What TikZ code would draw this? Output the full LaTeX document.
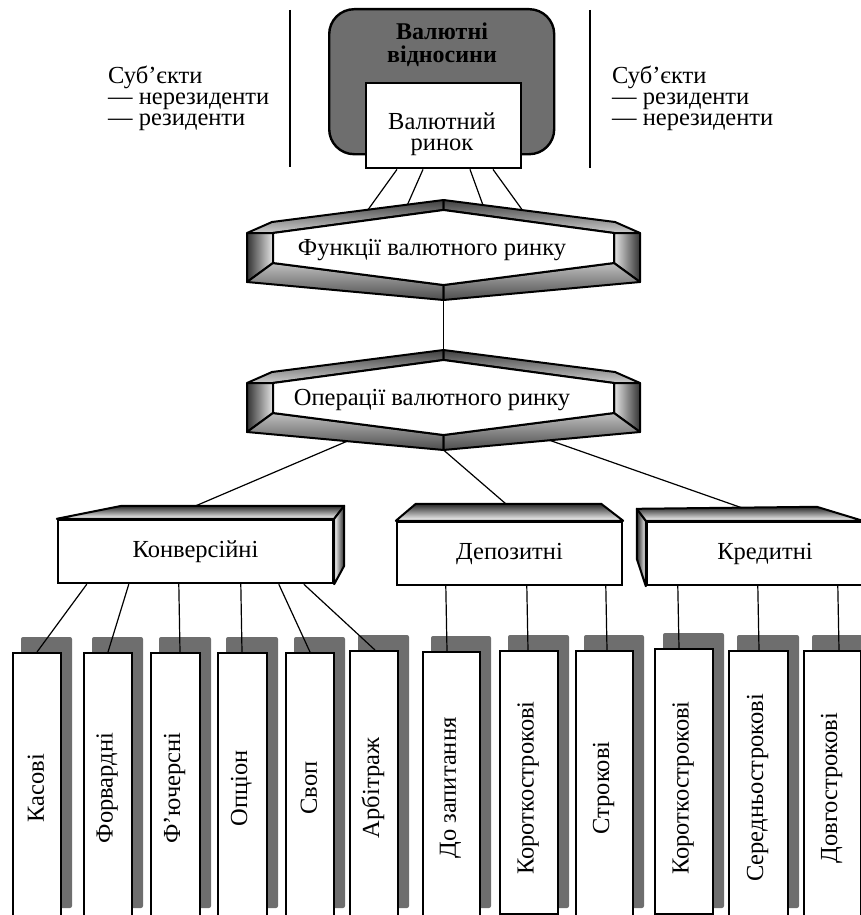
\documentclass[tikz,border=0pt]{standalone}
\usepackage{fontspec}
\setmainfont{Liberation Serif}
\usetikzlibrary{positioning, calc}

\begin{document}
\begin{tikzpicture}[x=1pt, y=-1pt, font=\fontsize{24.5}{21}\selectfont]
    \tikzstyle{frame} = [draw, line width=2.4pt]
    \tikzstyle{face} = [draw, line width=2pt, line join=round]
    \tikzstyle{conn} = [line width=1.2pt]
    \tikzstyle{bar} = [line width=2.6pt]
    \tikzstyle{kind} = [frame, fill=white, inner sep=0pt]
    \tikzstyle{shade} = [fill=black!57, rounded corners=2pt]

    \useasboundingbox (0,0) rectangle (861,915);
    \clip (0,0) rectangle (861,915);

    % Define top block
    \node[frame, fill=black!57, rounded corners=25pt, minimum width=225, minimum height=145, anchor=north west] (rel) at (328,8) {};
    \node[align=center, font=\fontsize{24}{23}\selectfont\bfseries] (reltxt) at (442,45) {Валютні\\відносини};
    \node[frame, fill=white, minimum width=155, minimum height=85, anchor=north west] (rynok) at (365,82) {};
    \node[align=center] (rynoktxt) at (442,134) {Валютний\\ринок};

    % Subjects
    \draw[bar] (290,10) -- (290,167);
    \draw[bar] (590,10) -- (590,168);
    \node[align=left, anchor=north west, inner sep=0pt] (subl) at (108,66) {Суб’єкти\\— нерезиденти\\— резиденти};
    \node[align=left, anchor=north west, inner sep=0pt] (subr) at (612,66) {Суб’єкти\\— резиденти\\— нерезиденти};

    % Define hexagons
    \foreach \n/\y/\t in {funk/250/Функції валютного ринку, oper/400/Операції валютного ринку} {
        \begin{scope}[shift={(443.5,\y)}]
            \coordinate (\n-T) at (0,-50);
            \coordinate (\n-IT) at (0,-40);
            \coordinate (\n-UL) at (-171.5,-28);
            \coordinate (\n-LT) at (-196.5,-17);
            \coordinate (\n-IUL) at (-170.5,-17);
            \coordinate (\n-ILB) at (-170.5,13);
            \coordinate (\n-LB) at (-196.5,32);
            \coordinate (\n-UR) at (171.5,-28);
            \coordinate (\n-RT) at (196.5,-17);
            \coordinate (\n-IUR) at (170.5,-17);
            \coordinate (\n-IRB) at (170.5,13);
            \coordinate (\n-RB) at (196.5,32);
            \coordinate (\n-IB) at (0,35);
            \coordinate (\n-B) at (0,50);
            \draw[face, top color=black!75, bottom color=black!20] (\n-T) -- (\n-UL) -- (\n-LT) -- (\n-IUL) -- (\n-IT) -- cycle;
            \draw[face, top color=black!75, bottom color=black!20] (\n-T) -- (\n-UR) -- (\n-RT) -- (\n-IUR) -- (\n-IT) -- cycle;
            \draw[face, left color=black!80, right color=black!10] (\n-LT) -- (\n-IUL) -- (\n-ILB) -- (\n-LB) -- cycle;
            \draw[face, left color=black!10, right color=black!80] (\n-RT) -- (\n-IUR) -- (\n-IRB) -- (\n-RB) -- cycle;
            \draw[face, top color=black!25, bottom color=black!70] (\n-LB) -- (\n-ILB) -- (\n-IB) -- (\n-B) -- cycle;
            \draw[face, top color=black!25, bottom color=black!70] (\n-RB) -- (\n-IRB) -- (\n-IB) -- (\n-B) -- cycle;
            \draw[face, fill=white] (\n-IT) -- (\n-IUR) -- (\n-IRB) -- (\n-IB) -- (\n-ILB) -- (\n-IUL) -- cycle;
        \end{scope}
        \node (\n) at (432,\y) {\t};
    }

    % Draw edges to hexagons
    \draw[conn] ([xshift=32]rynok.south west) -- ($(funk-UL)!.56!(funk-T)$);
    \draw[conn] ([xshift=58]rynok.south west) -- ($(funk-UL)!.79!(funk-T)$);
    \draw[conn] ([xshift=105]rynok.south west) -- ($(funk-T)!.23!(funk-UR)$);
    \draw[conn] ([xshift=128]rynok.south west) -- ($(funk-T)!.46!(funk-UR)$);
    \draw[conn] (funk-B) -- (oper-T);

    % Define operation kinds
    \node[frame, fill=white, minimum width=275, minimum height=63] (konv) at (195.5,551.5) {Конверсійні};
    \node[frame, fill=white, minimum width=225, minimum height=63] (depo) at (509.5,553.5) {Депозитні};
    \node[frame, fill=white, minimum width=236, minimum height=63] (kred) at (765,553.5) {Кредитні};
    \draw[face, top color=black!85, bottom color=white] (konv.north west) -- ($(konv.north west)+(65,-13)$) -- ($(konv.north east)+(10,-13)$) -- (konv.north east) -- cycle;
    \draw[face, left color=white, right color=black!85] (konv.north east) -- ++(10,-13) -- ++(0,60) -- (konv.south east) -- cycle;
    \draw[face, top color=black!85, bottom color=white] (depo.north west) -- ++(20,-17) -- ($(depo.north east)+(-22,-17)$) -- (depo.north east) -- cycle;
    \draw[face, left color=black!85, right color=white] (kred.north west) -- ++(-9,-12) -- ++(0,50) -- (kred.south west) -- cycle;
    \draw[face, top color=black!85, bottom color=white] ($(kred.north west)+(-9,-12)$) -- ++(180,-2) -- ++(46,14) -- (kred.north west) -- cycle;

    \draw[conn] ($(oper-LB)!.51!(oper-B)$) -- ($(konv.north west)+(139,-13)$);
    \draw[conn] (oper-B) -- ($(depo.north west)+(110,-17)$);
    \draw[conn] ($(oper-B)!.54!(oper-RB)$) -- ($(kred.north west)+(96,-13)$);

    % Define leaf boxes
    \foreach \i/\x/\w/\tp/\bt/\t in {1/12/48/652/925/Касові, 2/83/48/652/925/Форвардні,
        3/150/49/652/925/Ф’ючерсні, 4/217/49/652/925/Опціон, 5/285/48/652/925/Своп,
        6/349/48/650/925/Арбітраж, 7/422/57/651/925/До запитання, 8/499/58/650/913/Короткострокові,
        9/575/57/650/925/Строкові, 10/654/58/648/913/Короткострокові,
        11/728/59/650/925/Середньострокові, 12/803/57/650/925/Довгострокові} {
        \fill[shade] (\x+9,\tp-15) rectangle (\x+\w+12,908);
        \node[kind, minimum width=\w, minimum height=\bt-\tp, anchor=north west] (k\i) at (\x,\tp) {};
        \node[rotate=90] (t\i) at (\x+\w/2,788) {\t};
    }

    % Draw edges to leaves
    \foreach \a/\b/\k in {30/25/1, 72/25/2, 122/30/3, 184/25/4, 222/25/5, 247/26/6}
        \draw[conn] ([xshift=\a]konv.south west) -- ([xshift=\b]k\k.north west);
    \foreach \a/\b/\k in {50/25/7, 131/29/8, 210/32/9}
        \draw[conn] ([xshift=\a]depo.south west) -- ([xshift=\b]k\k.north west);
    \foreach \a/\b/\k in {32/25/10, 112/31/11, 192/36/12}
        \draw[conn] ([xshift=\a]kred.south west) -- ([xshift=\b]k\k.north west);
\end{tikzpicture}
\end{document}
